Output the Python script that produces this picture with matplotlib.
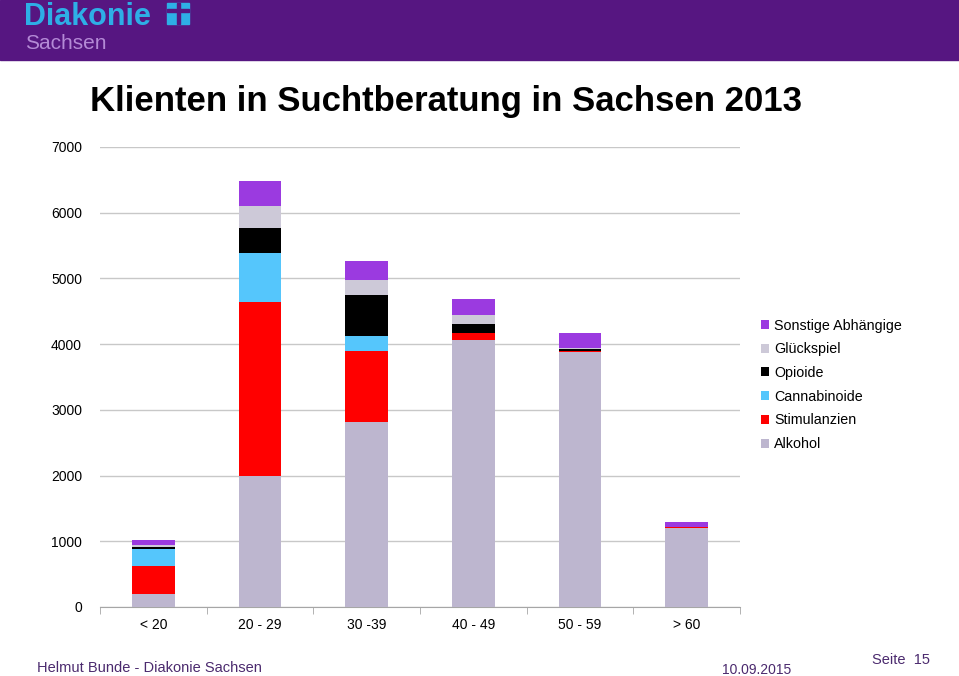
import matplotlib.pyplot as plt
import matplotlib.patches as mpatches
import numpy as np

plt.rcParams['font.family'] = ['Liberation Sans', 'DejaVu Sans']

categories = ["< 20", "20 - 29", "30 -39", "40 - 49", "50 - 59", "> 60"]
alkohol = [200, 2000, 2811, 4063, 3876, 1200]
stimulanzien = [424, 2646, 1090, 100, 20, 10]
cannabinoide = [259, 746, 223, 10, 5, 3]
opioide = [30, 371, 624, 134, 20, 3]
gluecksspiel = [30, 339, 228, 137, 26, 5]
sonstige = [76, 386, 290, 243, 218, 70]

series = [
    ("Alkohol", alkohol, "#bdb6cf"),
    ("Stimulanzien", stimulanzien, "#ff0000"),
    ("Cannabinoide", cannabinoide, "#55c6fc"),
    ("Opioide", opioide, "#000000"),
    ("Glückspiel", gluecksspiel, "#cdc9d8"),
    ("Sonstige Abhängige", sonstige, "#9b3ae0"),
]

fig = plt.figure(figsize=(9.59, 6.76), dpi=100)

# header band with logo
fig.patches.append(mpatches.Rectangle((0, 1 - 60 / 676), 1, 60 / 676, transform=fig.transFigure,
                                      color="#561681", zorder=0))
fig.text(24 / 959, 1 - 25 / 676, "Diakonie", color="#2eaee6", fontsize=22, fontweight="bold",
         va="baseline", ha="left")
fig.text(25 / 959, 1 - 49 / 676, "Sachsen", color="#b48ad6", fontsize=15, va="baseline", ha="left")
fig.patches.append(mpatches.Rectangle((167 / 959, 1 - 24 / 676), 22 / 959, 21 / 676,
                                      transform=fig.transFigure, color="#2eaee6"))
fig.patches.append(mpatches.Rectangle((176.5 / 959, 1 - 24 / 676), 3 / 959, 21 / 676,
                                      transform=fig.transFigure, color="#561681"))
fig.patches.append(mpatches.Rectangle((167 / 959, 1 - 12 / 676), 22 / 959, 3 / 676,
                                      transform=fig.transFigure, color="#561681"))

fig.text(90 / 959, 1 - 102 / 676, "Klienten in Suchtberatung in Sachsen 2013", fontsize=25,
         fontweight="bold", va="center", ha="left")

ax = fig.add_axes([100 / 959, 1 - 607 / 676, 640 / 959, 460 / 676])
x = np.arange(len(categories))
bottom = np.zeros(len(categories))
handles = []
for name, vals, col in series:
    b = ax.bar(x, vals, width=0.4, bottom=bottom, color=col, label=name, zorder=3)
    bottom += np.array(vals)
    handles.append(b)

ax.set_xlim(-0.5, len(categories) - 0.5)
ax.set_ylim(0, 7000)
ax.set_yticks(range(0, 7001, 1000))
ax.yaxis.grid(True, color="#c8c8c8", linewidth=1, zorder=0)
ax.set_xticks(x)
ax.set_xticklabels(categories, fontsize=10)
ax.set_xticks(np.arange(-0.5, len(categories), 1), minor=True)
ax.tick_params(axis="x", which="major", length=0, pad=8)
ax.tick_params(axis="x", which="minor", length=5, color="#a6a6a6")
ax.tick_params(axis="y", length=0, labelsize=10, pad=13)
for s in ["top", "right", "left"]:
    ax.spines[s].set_visible(False)
ax.spines["bottom"].set_color("#a6a6a6")

ax.legend(handles[::-1], [s[0] for s in series][::-1], loc="center left",
          bbox_to_anchor=(1.012, 0.483), frameon=False, fontsize=10.3,
          handlelength=0.6, handleheight=0.6, handletextpad=0.35, labelspacing=0.68)

fig.text(37 / 959, 1 - 668 / 676, "Helmut Bunde - Diakonie Sachsen", color="#4b2a6e", fontsize=10.5,
         va="center", ha="left")
fig.text(722 / 959, 1 - 670 / 676, "10.09.2015", color="#4b2a6e", fontsize=10, va="center", ha="left")
fig.text(872 / 959, 1 - 660 / 676, "Seite  15", color="#4b2a6e", fontsize=10.5, va="center", ha="left")

fig.savefig("out.png", dpi=100)
